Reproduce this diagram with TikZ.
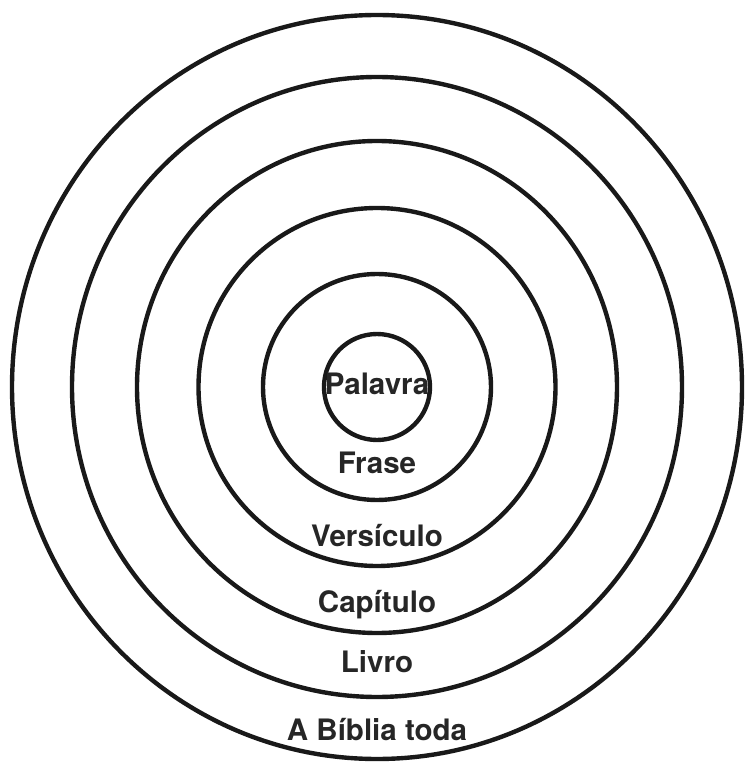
\documentclass[tikz,border=0pt]{standalone}
\usepackage{fontspec}
\setmainfont{TeX Gyre Heros}
\usepackage{tikz}
\tikzset{nivel/.style={font=\bfseries\fontsize{8.4}{10}\selectfont,anchor=base,inner sep=0pt,text=black!85},
  anel/.style={line width=1.25pt,draw=black!90}}

\begin{document}
\begin{tikzpicture}
  \useasboundingbox (0,0) rectangle (7.46,7.64);
  \coordinate (c) at (3.77,3.77);
  \draw[anel] (c) ellipse (0.53 and 0.53);
  \draw[anel] (c) ellipse (1.14 and 1.13);
  \draw[anel] (c) ellipse (1.785 and 1.79);
  \draw[anel] (c) ellipse (2.40 and 2.46);
  \draw[anel] (c) ellipse (3.05 and 3.10);
  \draw[anel] (c) ellipse (3.65 and 3.72);
  \node[nivel] (palavra) at (3.77,3.69) {Palavra};
  \node[nivel] (frase) at (3.77,2.91) {Frase};
  \node[nivel] (versiculo) at (3.77,2.18) {Versículo};
  \node[nivel] (capitulo) at (3.77,1.51) {Capítulo};
  \node[nivel] (livro) at (3.77,0.92) {Livro};
  \node[nivel] (biblia) at (3.77,0.23) {A Bíblia toda};
\end{tikzpicture}
\end{document}
